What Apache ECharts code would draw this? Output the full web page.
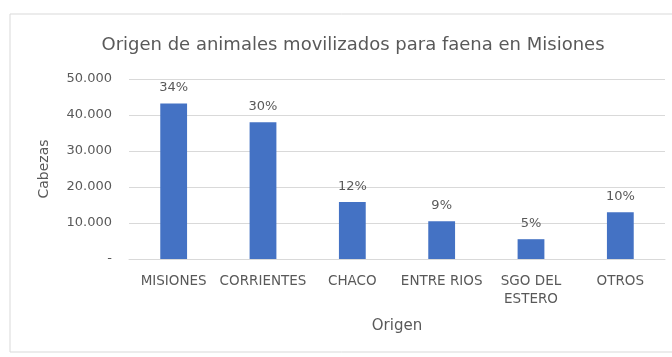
<!DOCTYPE html>
<html><head><meta charset="utf-8">
<script src="https://cdn.jsdelivr.net/npm/echarts@6/dist/echarts.min.js"></script>
<style>html,body{margin:0;padding:0;background:#fff}#c{width:672px;height:357px}</style>
</head><body><div id="c"></div>
<script>
const categories = ['MISIONES', 'CORRIENTES', 'CHACO', 'ENTRE RIOS', 'SGO DEL\nESTERO', 'OTROS'];
const cabezas = [43200, 38000, 15800, 10500, 5500, 13000];
const percentLabels = ['34%', '30%', '12%', '9%', '5%', '10%'];
const yTicks = [0, 10000, 20000, 30000, 40000, 50000];

const FONT = '"DejaVu Sans", "Liberation Sans", sans-serif';
const chart = echarts.init(document.getElementById('c'));
function fmt(v){ if (v === 0) return '-'; return String(v).replace(/\B(?=(\d{3})+(?!\d))/g, '.'); }
chart.setOption({
  animation: false,
  backgroundColor: '#fff',
  graphic: [{type:'rect', shape:{x:10, y:14, width:680, height:338}, style:{fill:'none', stroke:'#d9d9d9', lineWidth:1}, silent:true}],
  title: {text: 'Origen de animales movilizados para faena en Misiones', left: 348, top: 31, textAlign: 'center',
    textStyle: {fontFamily: FONT, fontSize: 18, fontWeight: 'normal', color: '#595959'}},
  grid: {left: 129, right: 7, top: 79, bottom: 98},
  xAxis: {type: 'category', data: categories, name: 'Origen', nameLocation: 'middle', nameGap: 60,
    nameTextStyle: {fontFamily: FONT, fontSize: 15, color: '#595959'},
    axisLine: {show: true, lineStyle: {color: '#d9d9d9'}}, axisTick: {show: false},
    axisLabel: {fontFamily: FONT, fontSize: 13.5, color: '#595959', margin: 13, interval: 0, lineHeight: 18}},
  yAxis: {type: 'value', min: yTicks[0], max: yTicks[yTicks.length-1], interval: 10000,
    name: 'Cabezas', nameLocation: 'middle', nameGap: 78, nameRotate: 90,
    nameTextStyle: {fontFamily: FONT, fontSize: 14, color: '#595959'},
    axisLine: {show: false}, axisTick: {show: false},
    splitLine: {lineStyle: {color: '#d9d9d9'}},
    axisLabel: {fontFamily: FONT, fontSize: 13, color: '#595959', margin: 17, formatter: fmt}},
  series: [{type: 'bar', data: cabezas, barCategoryGap: '70%',
    itemStyle: {color: '#4472C4'},
    label: {show: true, position: 'top', distance: 9, fontFamily: FONT, fontSize: 13, color: '#595959',
      formatter: p => percentLabels[p.dataIndex]}}]
});
</script></body></html>
